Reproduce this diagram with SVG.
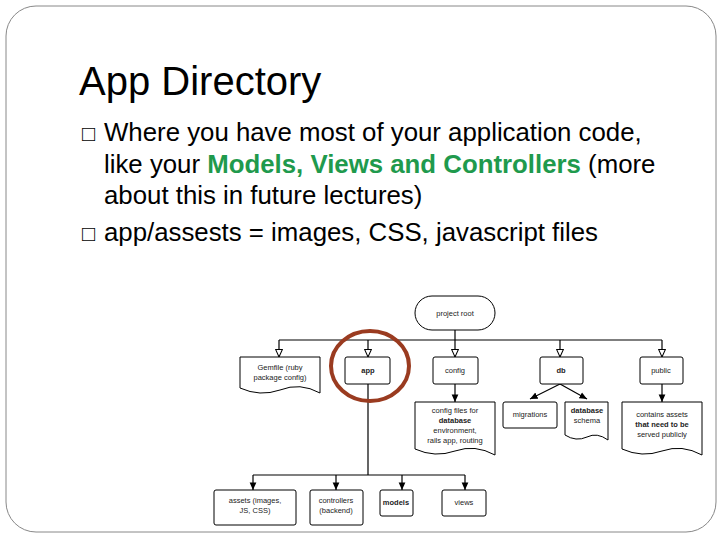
<svg xmlns="http://www.w3.org/2000/svg" width="720" height="540" viewBox="0 0 720 540">
<defs>
<marker id="o" viewBox="0 0 10 10" refX="9" refY="5" markerWidth="7" markerHeight="7" orient="auto"><path d="M0,1 L9,5 L0,9 Z" fill="#fff" stroke="#000" stroke-width="1.2"/></marker>
<marker id="f" viewBox="0 0 10 10" refX="9" refY="5" markerWidth="7" markerHeight="7" orient="auto"><path d="M0,1 L9,5 L0,9 Z" fill="#000"/></marker>
</defs>
<style>
.t{font-family:"Liberation Sans",Arial,sans-serif;fill:#000}
.p{font-size:25.8px}
.b{fill:#fff;stroke:#000;stroke-width:1}
.s{font-family:"Liberation Sans",Arial,sans-serif;font-size:7.5px;fill:#222;text-anchor:middle}
.l{fill:none;stroke:#000;stroke-width:1.2}
</style>
<rect x="0" y="0" width="720" height="540" fill="#fff"/>
<rect x="6" y="6" width="710" height="526" rx="30" fill="none" stroke="#888" stroke-width="1"/>
<text class="t" x="79" y="95" font-size="40">App Directory</text>
<text class="t" x="82" y="141" font-size="22">□</text>
<text class="t p" x="104" y="141">Where you have most of your application code,</text>
<text class="t p" x="104" y="173">like your <tspan fill="#1f9a4d" font-weight="bold">Models, Views and Controllers</tspan> (more</text>
<text class="t p" x="104" y="204">about this in future lectures)</text>
<text class="t" x="82" y="241" font-size="22">□</text>
<text class="t p" x="104" y="241">app/assests = images, CSS, javascript files</text>
<g id="connectors">
<path class="l" d="M455,330 V340 M279,340 H662"/>
<path class="l" d="M279,340 V357" marker-end="url(#o)"/>
<path class="l" d="M368,340 V357" marker-end="url(#o)"/>
<path class="l" d="M455,340 V357" marker-end="url(#o)"/>
<path class="l" d="M560,340 V357" marker-end="url(#o)"/>
<path class="l" d="M662,340 V357" marker-end="url(#o)"/>
<path class="l" d="M455,384 V402" marker-end="url(#f)"/>
<path class="l" d="M560,384 L530,399" marker-end="url(#f)"/>
<path class="l" d="M560,384 L587,399" marker-end="url(#f)"/>
<path class="l" d="M662,384 V402" marker-end="url(#f)"/>
<path class="l" d="M368,384 V475 M253,475 H465"/>
<path class="l" d="M253,475 V490" marker-end="url(#f)"/>
<path class="l" d="M336,475 V490" marker-end="url(#f)"/>
<path class="l" d="M402,475 V490" marker-end="url(#f)"/>
<path class="l" d="M465,475 V490" marker-end="url(#f)"/>
</g>
<g id="root"><rect class="b" x="415" y="296" width="80" height="34" rx="17"/><text class="s" x="455" y="316">project root</text></g>
<g id="gemfile"><path class="b" d="M240,357 H320 V393 Q300,382 280,390 Q260,397 240,388 Z"/><text class="s" x="280" y="370">Gemfile (ruby</text><text class="s" x="280" y="380">package config)</text></g>
<g id="app"><rect class="b" x="345" y="357" width="45" height="27" rx="2"/><text class="s" x="368" y="373" font-weight="bold">app</text></g>
<g id="config"><rect class="b" x="433" y="357" width="45" height="27" rx="2"/><text class="s" x="455" y="373">config</text></g>
<g id="db"><rect class="b" x="540" y="357" width="43" height="27" rx="2"/><text class="s" x="561" y="373" font-weight="bold">db</text></g>
<g id="public"><rect class="b" x="640" y="357" width="43" height="27" rx="2"/><text class="s" x="661" y="373">public</text></g>
<g id="configdoc"><path class="b" d="M415,402 H495 V455 Q475,444 455,451 Q435,458 415,449 Z"/><text class="s" x="455" y="413">config files for</text><text class="s" x="455" y="423" font-weight="bold">database</text><text class="s" x="455" y="433">environment,</text><text class="s" x="455" y="443">rails app, routing</text></g>
<g id="migrations"><rect class="b" x="503" y="402" width="54" height="26" rx="2"/><text class="s" x="530" y="417">migrations</text></g>
<g id="schema"><path class="b" d="M565,402 H608 V440 Q597,432 587,437 Q576,442 565,435 Z"/><text class="s" x="587" y="413" font-weight="bold">database</text><text class="s" x="587" y="423">schema</text></g>
<g id="publicdoc"><path class="b" d="M622,402 H702 V455 Q682,444 662,451 Q642,458 622,449 Z"/><text class="s" x="662" y="417">contains assets</text><text class="s" x="662" y="427" font-weight="bold">that need to be</text><text class="s" x="662" y="437">served publicly</text></g>
<g id="assets"><rect class="b" x="214" y="490" width="82" height="35" rx="2"/><text class="s" x="255" y="503">assets (images,</text><text class="s" x="255" y="513">JS, CSS)</text></g>
<g id="controllers"><rect class="b" x="310" y="490" width="53" height="35" rx="2"/><text class="s" x="336" y="503">controllers</text><text class="s" x="336" y="513">(backend)</text></g>
<g id="models"><rect class="b" x="380" y="490" width="33" height="26" rx="2"/><text class="s" x="396" y="505" font-weight="bold">models</text></g>
<g id="views"><rect class="b" x="442" y="490" width="44" height="26" rx="2"/><text class="s" x="464" y="505">views</text></g>
<ellipse cx="370" cy="366" rx="39" ry="35" fill="none" stroke="#9a3b20" stroke-width="4"/>
</svg>
